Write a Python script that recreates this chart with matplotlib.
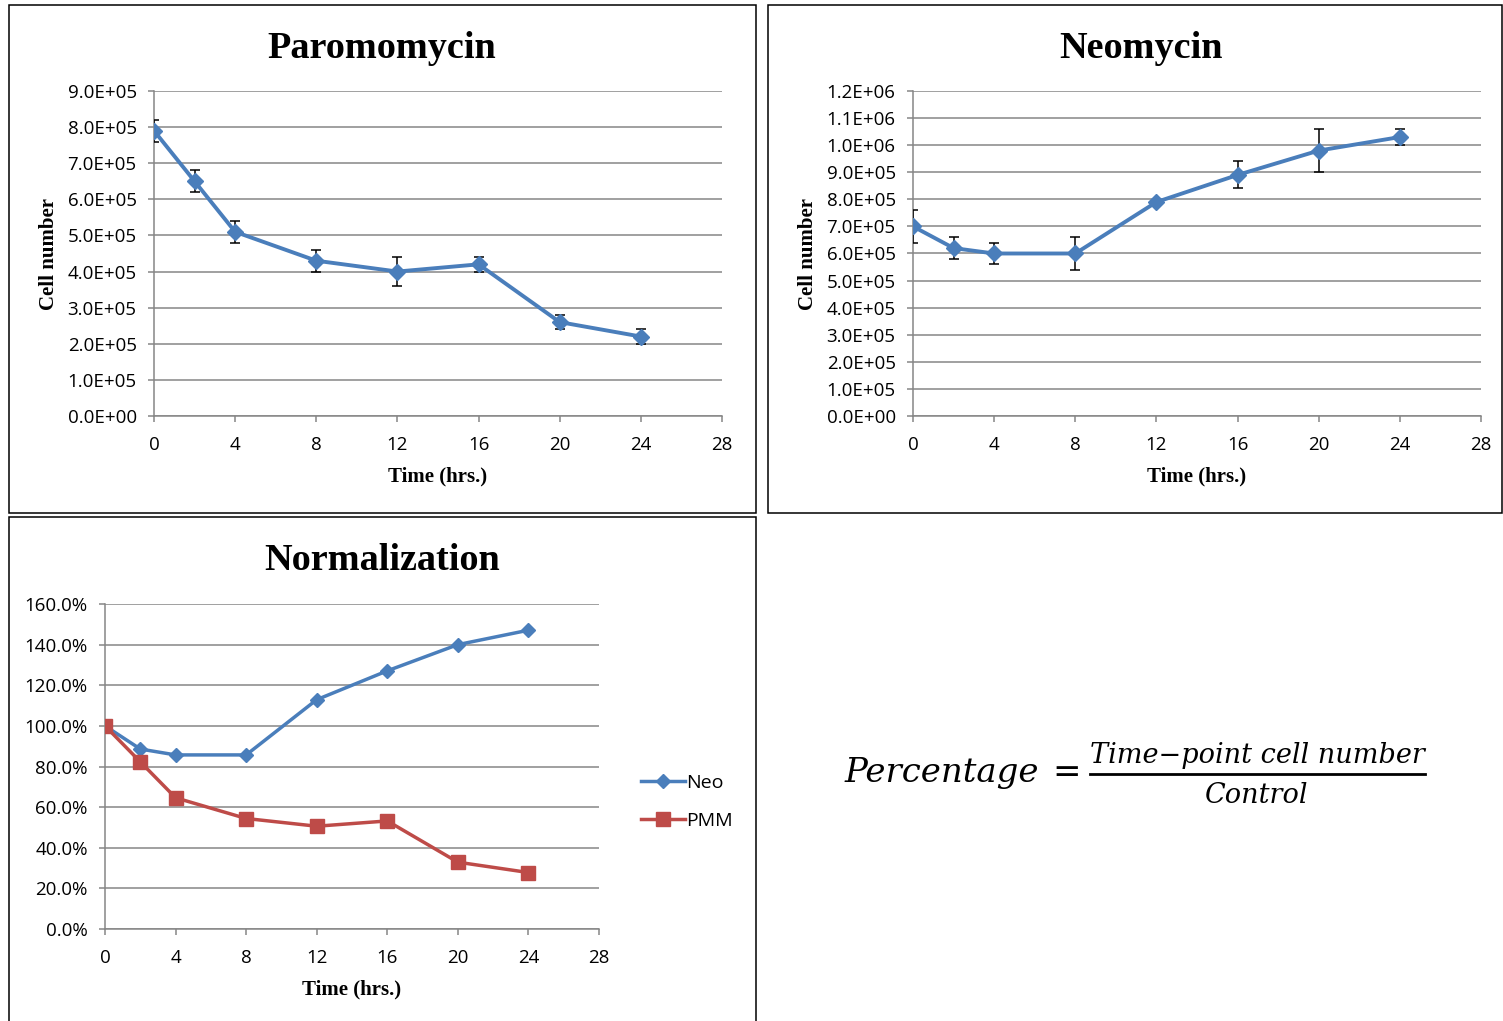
import numpy as np
import matplotlib
matplotlib.use("Agg")
import matplotlib.pyplot as plt
from matplotlib.patches import Rectangle
from matplotlib.lines import Line2D

# time points (hrs.)
hours = [0, 2, 4, 8, 12, 16, 20, 24]

# cell counts
pmm_cells = [7.9e5, 6.5e5, 5.1e5, 4.3e5, 4.0e5, 4.2e5, 2.6e5, 2.2e5]
pmm_err = [0.3e5, 0.3e5, 0.3e5, 0.3e5, 0.4e5, 0.2e5, 0.2e5, 0.2e5]
neo_cells = [7.0e5, 6.2e5, 6.0e5, 6.0e5, 7.9e5, 8.9e5, 9.8e5, 10.3e5]
neo_err = [0.6e5, 0.4e5, 0.4e5, 0.6e5, 0.0, 0.5e5, 0.8e5, 0.3e5]

# normalized percentages
neo_pct = [100.0, 88.6, 85.7, 85.7, 112.9, 127.1, 140.0, 147.1]
pmm_pct = [100.0, 82.3, 64.6, 54.4, 50.6, 53.2, 32.9, 27.8]

x_ticks = [0, 4, 8, 12, 16, 20, 24, 28]
pmm_yticks = [0, 1e5, 2e5, 3e5, 4e5, 5e5, 6e5, 7e5, 8e5, 9e5]
pmm_ylabels = ["0.0E+00", "1.0E+05", "2.0E+05", "3.0E+05", "4.0E+05",
               "5.0E+05", "6.0E+05", "7.0E+05", "8.0E+05", "9.0E+05"]
neo_yticks = [0, 1e5, 2e5, 3e5, 4e5, 5e5, 6e5, 7e5, 8e5, 9e5, 10e5, 11e5, 12e5]
neo_ylabels = ["0.0E+00", "1.0E+05", "2.0E+05", "3.0E+05", "4.0E+05",
               "5.0E+05", "6.0E+05", "7.0E+05", "8.0E+05", "9.0E+05",
               "1.0E+06", "1.1E+06", "1.2E+06"]
pct_yticks = [0, 20, 40, 60, 80, 100, 120, 140, 160]
pct_ylabels = ["0.0%", "20.0%", "40.0%", "60.0%", "80.0%", "100.0%",
               "120.0%", "140.0%", "160.0%"]

BLUE = "#4A7EBB"
RED = "#BE4B48"
GRID = "#868686"
W, H = 1503, 1021

TICK_FONT = dict(family="Open Sans", size=13.5)
SERIF_BOLD = dict(family="Liberation Serif", weight="bold")

fig = plt.figure(figsize=(W / 100, H / 100), dpi=100)


def px_axes(x0, y0, x1, y1):
    # pixel box -> figure axes
    return fig.add_axes([x0 / W, 1 - y1 / H, (x1 - x0) / W, (y1 - y0) / H])


def style_axes(ax, yticks, ylabels, ymax):
    ax.set_xlim(0, 28)
    ax.set_ylim(0, ymax)
    ax.set_xticks(x_ticks)
    ax.set_xticklabels([str(t) for t in x_ticks], **TICK_FONT)
    ax.set_yticks(yticks)
    ax.set_yticklabels(ylabels, **TICK_FONT)
    ax.grid(axis="y", color=GRID, linewidth=1.1)
    ax.set_axisbelow(True)
    for s in ("top", "right"):
        ax.spines[s].set_visible(False)
    for s in ("left", "bottom"):
        ax.spines[s].set_color(GRID)
        ax.spines[s].set_linewidth(1.1)
    ax.tick_params(direction="out", length=4.5, width=1.1, color=GRID,
                   pad=8, labelcolor="black")
    ax.tick_params(axis="x", pad=10)


def panel_box(x0, y0, x1, y1):
    fig.add_artist(Rectangle((x0 / W, 1 - y1 / H), (x1 - x0) / W, (y1 - y0) / H,
                             transform=fig.transFigure, fill=False,
                             edgecolor="black", linewidth=1.1))


# panel frames
panel_box(9, 5, 756, 513)
panel_box(768, 5, 1502, 513)
panel_box(9, 517, 756, 1030)

# Paromomycin
ax1 = px_axes(154, 91, 722, 416)
ax1.errorbar(hours, pmm_cells, yerr=pmm_err, color=BLUE, linewidth=2.8,
             marker="D", markersize=8, ecolor="black", elinewidth=1.1,
             capsize=3.5, capthick=1.1, zorder=3)
style_axes(ax1, pmm_yticks, pmm_ylabels, 9e5)
ax1.set_xlabel("Time (hrs.)", fontsize=15, labelpad=9, **SERIF_BOLD)
ax1.set_ylabel("Cell number", fontsize=15, labelpad=6, **SERIF_BOLD)
fig.text(382 / W, 1 - 48 / H, "Paromomycin", ha="center", va="center",
         fontsize=27.5, **SERIF_BOLD)

# Neomycin
ax2 = px_axes(913, 91, 1481, 416)
ax2.errorbar(hours, neo_cells, yerr=neo_err, color=BLUE, linewidth=2.8,
             marker="D", markersize=8, ecolor="black", elinewidth=1.1,
             capsize=3.5, capthick=1.1, zorder=3)
style_axes(ax2, neo_yticks, neo_ylabels, 12e5)
ax2.set_xlabel("Time (hrs.)", fontsize=15, labelpad=9, **SERIF_BOLD)
ax2.set_ylabel("Cell number", fontsize=15, labelpad=6, **SERIF_BOLD)
fig.text(1141 / W, 1 - 48 / H, "Neomycin", ha="center", va="center",
         fontsize=27.5, **SERIF_BOLD)

# Normalization
ax3 = px_axes(105, 604, 599, 929)
ax3.plot(hours, neo_pct, color=BLUE, linewidth=2.5, marker="D",
         markersize=7.5, label="Neo", zorder=3)
ax3.plot(hours, pmm_pct, color=RED, linewidth=2.5, marker="s",
         markersize=10, label="PMM", zorder=3)
style_axes(ax3, pct_yticks, pct_ylabels, 160)
ax3.set_xlabel("Time (hrs.)", fontsize=15, labelpad=9, **SERIF_BOLD)
fig.text(382 / W, 1 - 560 / H, "Normalization", ha="center", va="center",
         fontsize=27.5, **SERIF_BOLD)
ax3.legend(loc="center left", bbox_to_anchor=(631 / W, 1 - 802 / H),
           bbox_transform=fig.transFigure, frameon=False,
           prop=dict(family="Open Sans", size=14), handlelength=2.3,
           handletextpad=0.05, labelspacing=1.05, borderpad=0)

# normalization formula
fig.text(845 / W, 1 - 773 / H, "Percentage", ha="left", va="center",
         family="DejaVu Serif", style="italic", size=24.5)
fig.text(1067 / W, 1 - 773 / H, "=", ha="center", va="center",
         family="DejaVu Serif", size=24.5)
fig.text(1257 / W, 1 - 755 / H, "Time\u2212point cell number", ha="center",
         va="center", family="DejaVu Serif", style="italic", size=19.5)
fig.text(1257 / W, 1 - 795 / H, "Control", ha="center", va="center",
         family="DejaVu Serif", style="italic", size=19.5)
fig.add_artist(Line2D([1090 / W, 1425 / W], [1 - 774 / H, 1 - 774 / H],
                      transform=fig.transFigure, color="black", linewidth=2))

fig.savefig("out.png", dpi=100)
